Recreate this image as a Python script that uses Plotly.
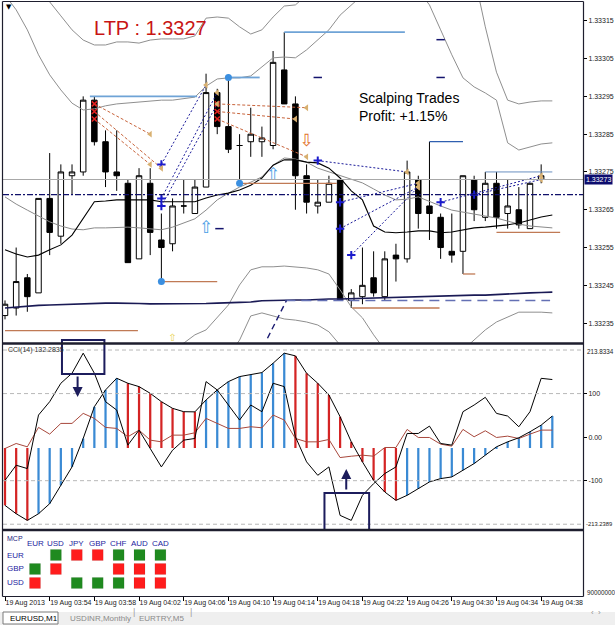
import plotly.graph_objects as go

W, H = 615, 625


def px_x(p):
    return p / W


def px_y(p):
    return 1 - p / H


# ------------------------------------------------------------------ data
TICK_BARS = [0, 4, 8, 12, 16, 20, 24, 28, 32, 36, 40, 44, 48]
TICK_LABELS = ["19 Aug 2013", "19 Aug 03:54", "19 Aug 03:58", "19 Aug 04:02",
               "19 Aug 04:06", "19 Aug 04:10", "19 Aug 04:14", "19 Aug 04:18",
               "19 Aug 04:22", "19 Aug 04:26", "19 Aug 04:30", "19 Aug 04:34",
               "19 Aug 04:38"]
PRICE_TICKS = [1.33235, 1.33245, 1.33255, 1.33265, 1.33275,
               1.33285, 1.33295, 1.33305, 1.33315]

OPEN = [1.33237, 1.33239, 1.33247, 1.33243, 1.33268, 1.33258, 1.33274, 1.33275, 1.33294, 1.33283,
        1.33275, 1.33272, 1.33252, 1.33272, 1.33257, 1.33256, 1.33266, 1.33264, 1.33271, 1.33296,
        1.33287, 1.33282, 1.33283, 1.33283, 1.33282, 1.33302, 1.33293, 1.33274, 1.33266, 1.33267,
        1.33273, 1.33241, 1.33242, 1.33247, 1.33242, 1.33253, 1.33252, 1.33273, 1.33266, 1.33263,
        1.33254, 1.33254, 1.33273, 1.33263, 1.33272, 1.33264, 1.33265, 1.33260, 1.33273, 1.33273]
HIGH = [1.33241, 1.33255, 1.33248, 1.33268, 1.33280, 1.33277, 1.33277, 1.33295, 1.33295, 1.33286,
        1.33286, 1.33273, 1.33276, 1.33276, 1.33264, 1.33268, 1.33273, 1.33273, 1.33301, 1.33297,
        1.33300, 1.33285, 1.33292, 1.33287, 1.33307, 1.33312, 1.33295, 1.33277, 1.33273, 1.33274,
        1.33273, 1.33244, 1.33255, 1.33254, 1.33254, 1.33256, 1.33278, 1.33274, 1.33283, 1.33264,
        1.33264, 1.33274, 1.33274, 1.33275, 1.33275, 1.33273, 1.33271, 1.33272, 1.33277, 1.33273]
LOW = [1.33236, 1.33237, 1.33238, 1.33243, 1.33253, 1.33256, 1.33269, 1.33274, 1.33282, 1.33271,
       1.33270, 1.33251, 1.33252, 1.33253, 1.33246, 1.33254, 1.33264, 1.33264, 1.33271, 1.33285,
       1.33280, 1.33272, 1.33279, 1.33279, 1.33281, 1.33293, 1.33265, 1.33264, 1.33264, 1.33267,
       1.33241, 1.33239, 1.33240, 1.33242, 1.33241, 1.33246, 1.33251, 1.33260, 1.33257, 1.33252,
       1.33251, 1.33248, 1.33262, 1.33262, 1.33260, 1.33260, 1.33260, 1.33260, 1.33272, 1.33273]
CLOSE = [1.33240, 1.33246, 1.33242, 1.33268, 1.33259, 1.33275, 1.33275, 1.33294, 1.33283, 1.33275,
         1.33274, 1.33251, 1.33274, 1.33259, 1.33255, 1.33266, 1.33266, 1.33271, 1.33296, 1.33287,
         1.33281, 1.33282, 1.33285, 1.33284, 1.33304, 1.33293, 1.33274, 1.33267, 1.33267, 1.33272,
         1.33241, 1.33243, 1.33245, 1.33243, 1.33252, 1.33252, 1.33275, 1.33264, 1.33264, 1.33255,
         1.33253, 1.33274, 1.33265, 1.33272, 1.33263, 1.33266, 1.33261, 1.33272, 1.33274, 1.33273]

MA_GRAY = [1.332684, 1.332665, 1.332649, 1.332633, 1.332618, 1.332607, 1.332599, 1.332597, 1.332602, 1.332602,
           1.332604, 1.332604, 1.332602, 1.332599, 1.332597, 1.332604, 1.332615, 1.332626, 1.332649, 1.332676,
           1.332694, 1.332710, 1.332723, 1.332737, 1.332768, 1.332787, 1.332784, 1.332776, 1.332760, 1.332750,
           1.332742, 1.332731, 1.332721, 1.332705, 1.332689, 1.332676, 1.332678, 1.332684, 1.332671, 1.332660,
           1.332649, 1.332644, 1.332639, 1.332633, 1.332628, 1.332620, 1.332612, 1.332607, 1.332604, 1.332602]
MA_BLACK = [1.332544, 1.332533, 1.332525, 1.332530, 1.332544, 1.332557, 1.332583, 1.332628, 1.332671, 1.332673,
            1.332676, 1.332676, 1.332676, 1.332676, 1.332671, 1.332671, 1.332671, 1.332671, 1.332681, 1.332689,
            1.332694, 1.332702, 1.332715, 1.332734, 1.332768, 1.332782, 1.332782, 1.332776, 1.332774, 1.332760,
            1.332734, 1.332700, 1.332676, 1.332607, 1.332591, 1.332589, 1.332591, 1.332594, 1.332594, 1.332589,
            1.332591, 1.332597, 1.332602, 1.332604, 1.332607, 1.332610, 1.332615, 1.332623, 1.332631, 1.332636]
MA_NAVY = [1.332390, 1.332393, 1.332395, 1.332397, 1.332398, 1.332399, 1.332401, 1.332402, 1.332403, 1.332403,
           1.332403, 1.332403, 1.332402, 1.332401, 1.332401, 1.332401, 1.332401, 1.332401, 1.332402, 1.332403,
           1.332403, 1.332405, 1.332406, 1.332409, 1.332410, 1.332411, 1.332411, 1.332411, 1.332413, 1.332414,
           1.332414, 1.332415, 1.332416, 1.332416, 1.332418, 1.332419, 1.332419, 1.332420, 1.332420, 1.332422,
           1.332422, 1.332423, 1.332424, 1.332424, 1.332426, 1.332427, 1.332428, 1.332430, 1.332431, 1.332432]
BAND_UP_OUTER = [1.333311, 1.333298, 1.333271, 1.333237, 1.333200, 1.333163, 1.333126, 1.333099, 1.333086, 1.333086,
                 1.333094, 1.333094, 1.333091, 1.333099, 1.333102, 1.333102, 1.333102, 1.333110, 1.333157, 1.333160,
                 1.333157, 1.333134, 1.333115, 1.333126, 1.333160, 1.333189, 1.333192, 1.333218, 1.333245, 1.333263,
                 1.333271, 1.333284, 1.333290, 1.333295, 1.333298, 1.333300, 1.333298, 1.333292, 1.333284, 1.333271,
                 1.333255, 1.333240, 1.333271, 1.333134, 1.333014, 1.332940, 1.332930, 1.332935, 1.332938, 1.332938]
BAND_UP_INNER = [1.333218, 1.333179, 1.333126, 1.333060, 1.333007, 1.332967, 1.332932, 1.332914, 1.332917, 1.332925,
                 1.332930, 1.332932, 1.332935, 1.332938, 1.332940, 1.332940, 1.332943, 1.332948, 1.332977, 1.332996,
                 1.332999, 1.332999, 1.333004, 1.333028, 1.333052, 1.333054, 1.333052, 1.333073, 1.333099, 1.333126,
                 1.333165, 1.333192, 1.333218, 1.333231, 1.333240, 1.333245, 1.333240, 1.333231, 1.333192, 1.333126,
                 1.333060, 1.332999, 1.332975, 1.332959, 1.332940, 1.332827, 1.332808, 1.332816, 1.332824, 1.332827]
BAND_LOW_INNER = [1.332239, 1.332231, 1.332226, 1.332221, 1.332221, 1.332226, 1.332231, 1.332237, 1.332242, 1.332247,
                  1.332252, 1.332258, 1.332263, 1.332266, 1.332274, 1.332287, 1.332297, 1.332319, 1.332332, 1.332364,
                  1.332398, 1.332451, 1.332491, 1.332499, 1.332499, 1.332501, 1.332499, 1.332496, 1.332491, 1.332480,
                  1.332438, 1.332393, 1.332364, 1.332319, 1.332279, 1.332258, 1.332247, 1.332247, 1.332252, 1.332258,
                  1.332266, 1.332279, 1.332305, 1.332332, 1.332353, 1.332366, 1.332379, 1.332379, 1.332379, 1.332377]
BAND_LOW_OUTER = [1.332150, 1.332140, 1.332130, 1.332125, 1.332125, 1.332130, 1.332140, 1.332150, 1.332160, 1.332170,
                  1.332180, 1.332185, 1.332190, 1.332195, 1.332200, 1.332205, 1.332210, 1.332215, 1.332220, 1.332240,
                  1.332265, 1.332305, 1.332369, 1.332377, 1.332369, 1.332361, 1.332358, 1.332353, 1.332345, 1.332327,
                  1.332292, 1.332230, 1.332180, 1.332140, 1.332110, 1.332090, 1.332080, 1.332080, 1.332085, 1.332095,
                  1.332110, 1.332130, 1.332150, 1.332170, 1.332190, 1.332205, 1.332215, 1.332220, 1.332225, 1.332228]
PIVOT_LEVEL = 1.33269

# horizontal order levels: (from bar, to bar, price)
TP_LINES = [(7.6, 17.2, 1.33295), (20, 22.8, 1.33300), (25, 35.8, 1.33312)]
TP_THIN_LINES = [(43, 49, 1.33275)]
TP_DARK_LINES = [(38, 41, 1.33283)]
SL_LINES = [(0, 11.9, 1.33233), (13.9, 19, 1.33246), (21, 29.7, 1.33272),
            (31.1, 38.9, 1.33239), (41, 42.1, 1.33248), (44, 49.7, 1.33259)]
DASH_LEVEL = (25.1, 48.8, 1.33241)
DASH_DIAG_BARS = [23.5, 25.2]
DASH_DIAG_PRICES = [1.33231, 1.33241]
ENTRY_DOT_BARS = [20, 21, 14]
ENTRY_DOT_PRICES = [1.33300, 1.33272, 1.33246]

# closed trades
BUY_OPEN_BAR = [14, 14, 14, 28, 30, 30, 31, 39, 42]
BUY_OPEN_PX = [1.33277, 1.33268, 1.33266, 1.33278, 1.33267, 1.33260, 1.33253, 1.33267, 1.33269]
BUY_CLOSE_BAR = [18, 19, 19, 36, 37, 37, 37, 48, 48]
BUY_CLOSE_PX = [1.33298, 1.33296, 1.33293, 1.33275, 1.33272, 1.33271, 1.33271, 1.33274, 1.33273]
SELL_OPEN_BAR = [8, 8, 8, 19, 19, 19]
SELL_OPEN_PX = [1.33293, 1.33291, 1.33289, 1.33293, 1.33291, 1.33289]
SELL_CLOSE_BAR = [13, 14, 13, 27, 26, 27]
SELL_CLOSE_PX = [1.33285, 1.33276, 1.33277, 1.33292, 1.33289, 1.33279]

UP_ARROW_BARS = [18, 24]
UP_ARROW_PX = [1.33260, 1.33274]
DOWN_ARROW_BARS = [27]
DOWN_ARROW_PX = [1.33283]
SMALL_ARROW_BARS = [15]
SMALL_ARROW_PX = [1.33231]
MARK_DASH_BARS = [19.2, 28, 39, 39]
MARK_DASH_PX = [1.33260, 1.33300, 1.33310, 1.33300]

# CCI window
CCI_FAST = [-99.1, -64.5, -72.2, 50.7, 81.4, 123.7, 146.7, 192.8, 146.7, 81.4,
            62.2, -18.4, 16.1, -26.1, -68.4, -30.0, -6.9, -3.1, 127.5, 108.3,
            73.7, 39.2, 73.7, 58.4, 123.7, 116.0, 0.8, -56.8, -87.6, -68.4,
            -179.7, -191.2, -133.6, -106.8, -83.7, -68.4, 8.4, 8.4, 25.3, -14.6,
            -18.4, 58.4, 73.7, 91.4, 54.5, 48.4, 23.8, 58.4, 135.0, 132.2835]
CCI_SLOW = [-156.7, -175.9, -191.2, -175.9, -152.8, -110.6, -68.4, -3.1, 69.9, 108.3,
            135.2, 123.7, 116.0, 100.6, 81.4, 66.1, 58.4, 58.0, 85.3, 108.3,
            127.5, 139.0, 142.9, 148.2, 169.7, 192.8, 186.6, 146.7, 123.7, 96.8,
            46.9, -10.8, -56.8, -99.1, -126.0, -145.2, -133.6, -118.3, -102.9, -95.2,
            -91.4, -76.0, -60.7, -41.5, -22.3, -10.8, -1.5, 12.3, 27.6, 48.4]
CCI_SIGNAL = [-26.1, -14.6, -22.3, 22.3, 6.9, 31.5, 31.5, 54.5, 43.0, 22.3,
              20.0, 0.8, 16.1, -6.9, -10.8, 4.6, 4.6, 10.0, 43.0, 31.5,
              20.0, 20.0, 23.8, 21.5, 50.7, 39.2, -3.1, -10.8, -10.8, -5.4,
              -46.9, -43.8, -41.5, -43.8, -23.8, -23.8, 17.7, -0.8, -0.8, -16.1,
              -20.7, 17.7, 0.8, 14.6, -0.8, 2.3, -3.1, 6.9, 16.1, 16.1]
HIST_BASE = -25.0
CCI_MAX, CCI_MIN = 213.8334, -213.2389
CCI_LEVELS = [200, 100, -100, -200]

# MCP currency-strength grid (1 = green, -1 = red, 0 = empty)
MCP_COLS = ["EUR", "USD", "JPY", "GBP", "CHF", "AUD", "CAD"]
MCP_ROWS = ["EUR", "GBP", "USD"]
MCP_SIGNAL = [[0, 1, -1, -1, 1, 1, 1],
              [1, -1, 0, 0, -1, -1, -1],
              [-1, 0, 1, 1, 1, -1, -1]]
MCP_SCALE_LABEL = "90000000"

TABS = ["EURUSD,M1", "USDINR,Monthly", "EURTRY,M5"]

# ------------------------------------------------------------------ figure
bars = list(range(len(CLOSE)))
FONT = "Liberation Sans, Arial, sans-serif"
NAVY = "#14146e"
fig = go.Figure()

fig.add_trace(go.Candlestick(
    x=bars, open=OPEN, high=HIGH, low=LOW, close=CLOSE,
    increasing=dict(fillcolor="white", line=dict(color="black", width=1)),
    decreasing=dict(fillcolor="black", line=dict(color="black", width=1)),
    whiskerwidth=0, hoverinfo="skip", xaxis="x", yaxis="y"))


def add_line(xs, ys, color, width=1.0, dash="solid", xa="x", ya="y"):
    fig.add_trace(go.Scatter(x=xs, y=ys, mode="lines", hoverinfo="skip",
                             line=dict(color=color, width=width, dash=dash),
                             xaxis=xa, yaxis=ya))


for band in (BAND_UP_OUTER, BAND_UP_INNER, BAND_LOW_INNER, BAND_LOW_OUTER):
    add_line(bars, band, "#8f8f8f", 1)
add_line(bars, MA_GRAY, "#8a8a8a", 1)
add_line(bars, MA_BLACK, "#000000", 1.1)
add_line(bars, MA_NAVY, "#1a1a55", 1.6)

for a, b, p in TP_LINES:
    add_line([a, b], [p, p], "#6fa3d6", 1.8)
for a, b, p in TP_THIN_LINES:
    add_line([a, b], [p, p], "#6a8fc0", 1)
for a, b, p in TP_DARK_LINES:
    add_line([a, b], [p, p], "#2f5fb0", 1.2)
for a, b, p in SL_LINES:
    add_line([a, b], [p, p], "#c07a55", 1.3)
add_line([DASH_LEVEL[0], DASH_LEVEL[1]], [DASH_LEVEL[2], DASH_LEVEL[2]], "#6470b4", 1.6, "10px,6px")
add_line(DASH_DIAG_BARS, DASH_DIAG_PRICES, "#1a1a70", 1.4, "6px,4px")

for ob, op, cb, cp in zip(BUY_OPEN_BAR, BUY_OPEN_PX, BUY_CLOSE_BAR, BUY_CLOSE_PX):
    add_line([ob, cb], [op, cp], "#1a1a9a", 1, "2px,2px")
for ob, op, cb, cp in zip(SELL_OPEN_BAR, SELL_OPEN_PX, SELL_CLOSE_BAR, SELL_CLOSE_PX):
    add_line([ob, cb], [op, cp], "#c8643c", 1, "3px,2px")

fig.add_trace(go.Scatter(x=BUY_OPEN_BAR, y=BUY_OPEN_PX, mode="markers", hoverinfo="skip",
                         marker=dict(symbol="cross-thin", size=6, line=dict(color="#1a1acc", width=2))))
fig.add_trace(go.Scatter(x=SELL_OPEN_BAR, y=SELL_OPEN_PX, mode="markers", hoverinfo="skip",
                         marker=dict(symbol="x-thin", size=5, line=dict(color="#e02020", width=1.6))))
fig.add_trace(go.Scatter(x=BUY_CLOSE_BAR + SELL_CLOSE_BAR, y=BUY_CLOSE_PX + SELL_CLOSE_PX,
                         mode="markers", hoverinfo="skip",
                         marker=dict(symbol="triangle-left", size=6, color="#d8b070")))
fig.add_trace(go.Scatter(x=ENTRY_DOT_BARS, y=ENTRY_DOT_PRICES, mode="markers", hoverinfo="skip",
                         marker=dict(symbol="circle", size=7, color="#3b8fe0")))
fig.add_trace(go.Scatter(x=MARK_DASH_BARS, y=MARK_DASH_PX, mode="markers", hoverinfo="skip",
                         marker=dict(symbol="line-ew", size=6, line=dict(color=NAVY, width=1.5))))
fig.add_trace(go.Scatter(x=UP_ARROW_BARS, y=UP_ARROW_PX, mode="text", text=["⇧"] * len(UP_ARROW_BARS),
                         textfont=dict(family="DejaVu Sans", size=17, color="#4a9ee6"), hoverinfo="skip"))
fig.add_trace(go.Scatter(x=DOWN_ARROW_BARS, y=DOWN_ARROW_PX, mode="text", text=["⇩"] * len(DOWN_ARROW_BARS),
                         textfont=dict(family="DejaVu Sans", size=17, color="#e2722a"), hoverinfo="skip"))
fig.add_trace(go.Scatter(x=SMALL_ARROW_BARS, y=SMALL_ARROW_PX, mode="text", text=["⇧"] * len(SMALL_ARROW_BARS),
                         textfont=dict(family="DejaVu Sans", size=10, color="#e8d24a"), hoverinfo="skip"))

# CCI window
hist_colors = []
for i, v in enumerate(CCI_SLOW):
    rising = i > 0 and v > CCI_SLOW[i - 1]
    hist_colors.append("#3a8ad4" if rising else "#d42424")
fig.add_trace(go.Bar(x=bars, y=[v - HIST_BASE for v in CCI_SLOW], base=HIST_BASE, width=0.2,
                     marker=dict(color=hist_colors, line=dict(width=0)), hoverinfo="skip",
                     xaxis="x2", yaxis="y2"))
add_line(bars, CCI_SIGNAL, "#a8483c", 1, xa="x2", ya="y2")
add_line(bars, CCI_SLOW, "#000000", 1, xa="x2", ya="y2")
add_line(bars, CCI_FAST, "#000000", 1, xa="x2", ya="y2")

# MCP grid
sq_x, sq_y, sq_c = [], [], []
for r, row in enumerate(MCP_SIGNAL):
    for c, s in enumerate(row):
        if s:
            sq_x.append(c)
            sq_y.append(r)
            sq_c.append("#1f8a1f" if s > 0 else "#ff1c1c")
fig.add_trace(go.Scatter(x=sq_x, y=sq_y, mode="markers", hoverinfo="skip",
                         marker=dict(symbol="square", size=11, color=sq_c,
                                     line=dict(color="rgba(0,0,0,0.15)", width=0.5)),
                         xaxis="x4", yaxis="y3"))
fig.add_trace(go.Scatter(x=[], y=[], xaxis="x3", yaxis="y3", hoverinfo="skip"))

# ------------------------------------------------------------------ layout
XD = [px_x(3), px_x(583)]
XR = [-0.179, 51.746]
PR = [1.3322974, 1.3331997]
tickfont = dict(family=FONT, size=7, color="#1a1a1a")
smallfont = dict(family=FONT, size=6.3, color="#1a1a1a")
noax = dict(showgrid=False, zeroline=False)

fig.update_layout(
    width=W, height=H, margin=dict(l=0, r=0, t=0, b=0),
    paper_bgcolor="white", plot_bgcolor="white", showlegend=False,
    font=dict(family=FONT, size=7, color="#1a1a1a"),
    xaxis=dict(domain=XD, range=XR, anchor="y", showticklabels=False, ticks="",
               rangeslider=dict(visible=False), **noax),
    yaxis=dict(domain=[px_y(343), px_y(2)], range=PR, anchor="x", side="right",
               tickvals=PRICE_TICKS, ticktext=[f"{v:.5f}" for v in PRICE_TICKS],
               ticks="outside", ticklen=3, tickcolor="#000", tickfont=tickfont, **noax),
    xaxis2=dict(domain=XD, range=XR, anchor="y2", matches="x", showticklabels=False,
                ticks="", **noax),
    yaxis2=dict(domain=[px_y(530), px_y(344)], range=[CCI_MIN, CCI_MAX], anchor="x2",
                side="right", tickvals=[100, 0, -100], ticktext=["100", "0.00", "-100"],
                ticks="outside", ticklen=3, tickcolor="#000", tickfont=tickfont, **noax),
    xaxis3=dict(domain=XD, range=XR, anchor="y3", matches="x", tickvals=TICK_BARS,
                ticktext=TICK_LABELS, ticks="outside", ticklen=4, tickcolor="#000",
                ticklabelposition="outside right", tickangle=0, tickfont=tickfont, **noax),
    yaxis3=dict(domain=[px_y(596), px_y(531)], range=[2.929, -1.714], anchor="x3",
                visible=False),
    xaxis4=dict(overlaying="x3", anchor="y3", range=[-1.531, 26.22], visible=False),
)

shapes = []
# current price line & pivot line
shapes.append(dict(type="line", xref="x domain", yref="y", x0=0, x1=1, y0=CLOSE[-1], y1=CLOSE[-1],
                   line=dict(color="#a8a8a8", width=1)))
shapes.append(dict(type="line", xref="x domain", yref="y", x0=0, x1=1, y0=PIVOT_LEVEL, y1=PIVOT_LEVEL,
                   line=dict(color="#10106a", width=1.2, dash="6px,2px,2px,2px")))
for lv in CCI_LEVELS:
    shapes.append(dict(type="line", xref="x2 domain", yref="y2", x0=0, x1=1, y0=lv, y1=lv,
                       line=dict(color="#b8b8b8", width=1, dash="4px,3px")))
# highlight boxes (extreme CCI readings)
imax = CCI_FAST.index(max(CCI_FAST))
imin = CCI_FAST.index(min(CCI_FAST))
shapes.append(dict(type="rect", xref="x2", yref="paper", x0=imax - 1.9, x1=imax + 1.9,
                   y0=px_y(374), y1=px_y(340), line=dict(color="#1c1c5c", width=2)))
shapes.append(dict(type="rect", xref="x2", yref="paper", x0=imin - 2.4, x1=imin + 1.6,
                   y0=px_y(530), y1=px_y(493), line=dict(color="#1c1c5c", width=2)))
# frame & separators
FR = "#1e1e2e"
shapes += [
    dict(type="line", xref="paper", yref="paper", x0=px_x(2.5), x1=px_x(2.5), y0=px_y(1.5), y1=px_y(596.5),
         line=dict(color=FR, width=1.2)),
    dict(type="line", xref="paper", yref="paper", x0=px_x(583.5), x1=px_x(583.5), y0=px_y(1.5), y1=px_y(596.5),
         line=dict(color=FR, width=1.2)),
    dict(type="line", xref="paper", yref="paper", x0=px_x(2.5), x1=px_x(583.5), y0=px_y(1.5), y1=px_y(1.5),
         line=dict(color=FR, width=1.2)),
    dict(type="line", xref="paper", yref="paper", x0=px_x(2.5), x1=px_x(583.5), y0=px_y(596.5), y1=px_y(596.5),
         line=dict(color=FR, width=1.2)),
    dict(type="line", xref="paper", yref="paper", x0=px_x(2.5), x1=px_x(583.5), y0=px_y(343.5), y1=px_y(343.5),
         line=dict(color=FR, width=2.5)),
    dict(type="line", xref="paper", yref="paper", x0=px_x(2.5), x1=px_x(583.5), y0=px_y(530), y1=px_y(530),
         line=dict(color=FR, width=2.5)),
    # tab strip
    dict(type="rect", xref="paper", yref="paper", x0=0, x1=1, y0=0, y1=px_y(612),
         fillcolor="#efefef", line=dict(width=0), layer="below"),
    dict(type="rect", xref="paper", yref="paper", x0=px_x(3), x1=px_x(58), y0=px_y(624), y1=px_y(612),
         fillcolor="white", line=dict(color="#7a7a7a", width=1)),
]
fig.update_layout(shapes=shapes)

ann = []
ann.append(dict(xref="paper", yref="paper", x=px_x(92), y=px_y(28), xanchor="left", yanchor="middle",
                text=f"LTP : {CLOSE[-1]:.4f}", showarrow=False,
                font=dict(family=FONT, size=20, color="#c81414")))
ann.append(dict(xref="paper", yref="paper", x=px_x(357), y=px_y(107), xanchor="left", yanchor="middle",
                align="left", text="Scalping Trades<br>Profit: +1.15%", showarrow=False,
                font=dict(family=FONT, size=14, color="#000000")))
ann.append(dict(xref="paper", yref="paper", x=px_x(4), y=px_y(7), xanchor="left", yanchor="middle",
                text="▼", showarrow=False, font=dict(family="DejaVu Sans", size=7, color="#000")))
ann.append(dict(xref="paper", yref="y", x=px_x(584), y=CLOSE[-1], xanchor="left", yanchor="middle",
                text=f"{CLOSE[-1]:.5f}", showarrow=False, bgcolor="#0c0c6e", borderpad=1,
                font=dict(family=FONT, size=7, color="white")))
ann.append(dict(xref="paper", yref="paper", x=px_x(6), y=px_y(350), xanchor="left", yanchor="middle",
                text=f"CCI(14) {CCI_FAST[-1]:.4f}", showarrow=False,
                font=dict(family=FONT, size=7, color="#333333")))
ann.append(dict(xref="paper", yref="paper", x=px_x(585), y=px_y(351), xanchor="left", yanchor="middle",
                text=f"{CCI_MAX:.4f}", showarrow=False, font=smallfont))
ann.append(dict(xref="paper", yref="paper", x=px_x(584), y=px_y(524), xanchor="left", yanchor="middle",
                text=f"{CCI_MIN:.4f}", showarrow=False, font=dict(family=FONT, size=5.8, color="#1a1a1a")))
ann.append(dict(xref="paper", yref="paper", x=px_x(585), y=px_y(592), xanchor="left", yanchor="middle",
                text=MCP_SCALE_LABEL, showarrow=False, font=smallfont))
# arrows from the highlight boxes
ann.append(dict(xref="x2", yref="paper", x=imax - 0.5, y=px_y(397), ax=0, ay=-22, text="",
                showarrow=True, arrowhead=2, arrowsize=1, arrowwidth=2, arrowcolor="#1c1c5c"))
ann.append(dict(xref="x2", yref="paper", x=imin - 0.45, y=px_y(469), ax=0, ay=22, text="",
                showarrow=True, arrowhead=2, arrowsize=1, arrowwidth=2, arrowcolor="#1c1c5c"))
# MCP labels
ann.append(dict(xref="paper", yref="paper", x=px_x(5), y=px_y(538), xanchor="left", yanchor="middle",
                text="MCP", showarrow=False, font=dict(family=FONT, size=7, color="#1c1c80")))
for c, name in enumerate(MCP_COLS):
    ann.append(dict(xref="x4", yref="y3", x=c, y=-0.8, text=name, showarrow=False,
                    font=dict(family=FONT, size=8, color="#1c1ca0")))
for r, name in enumerate(MCP_ROWS):
    ann.append(dict(xref="x4", yref="y3", x=-0.95, y=r, text=name, showarrow=False,
                    font=dict(family=FONT, size=8, color="#1c1ca0")))
# tabs
tab_x = [8, 68, 137]
for i, (name, tx) in enumerate(zip(TABS, tab_x)):
    ann.append(dict(xref="paper", yref="paper", x=px_x(tx), y=px_y(618.5), xanchor="left",
                    yanchor="middle", text=name, showarrow=False,
                    font=dict(family=FONT, size=8, color="#000" if i == 0 else "#8a8a8a")))
for sx in (131, 188):
    ann.append(dict(xref="paper", yref="paper", x=px_x(sx), y=px_y(618.5), text="|", showarrow=False,
                    font=dict(family=FONT, size=9, color="#a0a0a0")))
ann.append(dict(xref="paper", yref="paper", x=px_x(603), y=px_y(618.5), text="‹  ›", showarrow=False,
                font=dict(family=FONT, size=8, color="#909090")))
fig.update_layout(annotations=ann)

fig.write_html("out.html")
